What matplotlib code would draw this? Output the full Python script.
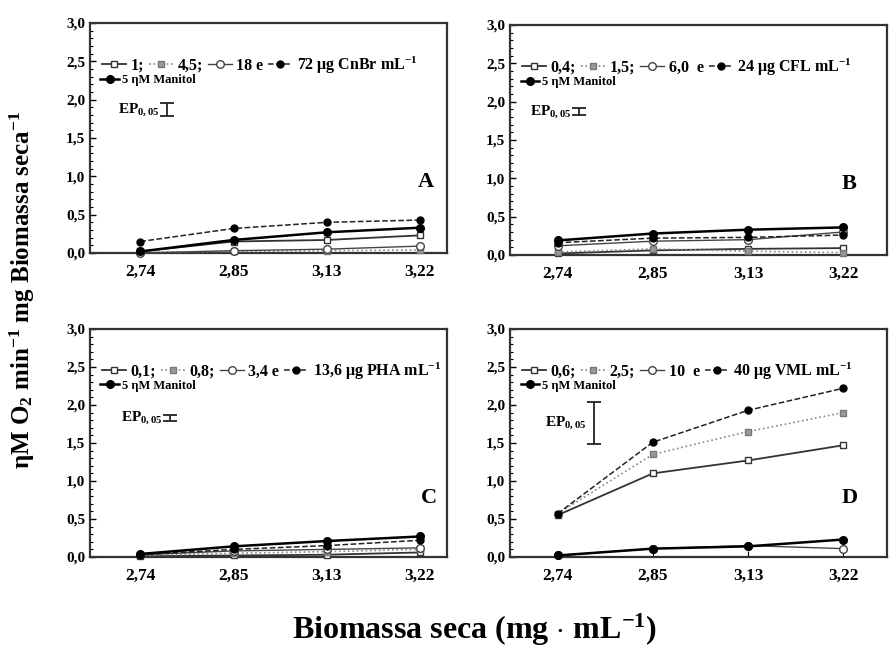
import numpy as np
import matplotlib.pyplot as plt
from matplotlib.lines import Line2D
from matplotlib.ticker import MultipleLocator, FuncFormatter

plt.rcParams['font.family'] = ['Liberation Serif', 'DejaVu Serif']
plt.rcParams['font.weight'] = 'bold'
plt.rcParams['mathtext.fontset'] = 'custom'
plt.rcParams['mathtext.rm'] = 'Liberation Serif:bold'
plt.rcParams['mathtext.bf'] = 'Liberation Serif:bold'
plt.rcParams['mathtext.it'] = 'Liberation Serif:bold'
plt.rcParams['mathtext.default'] = 'rm'

# x categories (biomassa seca)
biomassa = ["2,74", "2,85", "3,13", "3,22"]

# series values per panel: s1 open square, s2 crossed square, s3 open circle,
# s4 filled circle (dashed), s5 manitol
a_s1 = [0.02, 0.15, 0.17, 0.23]
a_s2 = [0.01, 0.02, 0.03, 0.04]
a_s3 = [0.00, 0.03, 0.05, 0.09]
a_s4 = [0.15, 0.32, 0.40, 0.43]
a_s5 = [0.02, 0.17, 0.27, 0.33]

b_s1 = [0.02, 0.06, 0.08, 0.09]
b_s2 = [0.04, 0.08, 0.05, 0.03]
b_s3 = [0.12, 0.18, 0.20, 0.30]
b_s4 = [0.16, 0.22, 0.23, 0.26]
b_s5 = [0.19, 0.28, 0.33, 0.36]

c_s1 = [0.01, 0.02, 0.03, 0.06]
c_s2 = [0.02, 0.05, 0.07, 0.10]
c_s3 = [0.03, 0.08, 0.10, 0.12]
c_s4 = [0.03, 0.10, 0.15, 0.22]
c_s5 = [0.04, 0.14, 0.21, 0.27]

d_s1 = [0.55, 1.10, 1.27, 1.47]
d_s2 = [0.57, 1.35, 1.65, 1.90]
d_s3 = [0.02, 0.11, 0.15, 0.11]
d_s4 = [0.57, 1.51, 1.93, 2.22]
d_s5 = [0.02, 0.11, 0.14, 0.23]

# legend doses
doses_a = ["1;", "4,5;", "18 e", "72 μg CnBr mL$^{-1}$"]
doses_b = ["0,4;", "1,5;", "6,0  e", "24 μg CFL mL$^{-1}$"]
doses_c = ["0,1;", "0,8;", "3,4 e", "13,6 μg PHA mL$^{-1}$"]
doses_d = ["0,6;", "2,5;", "10  e", "40 μg VML mL$^{-1}$"]

# EP 0,05 (bar length)
ep_values = [0.17, 0.09, 0.09, 0.55]
letters = ["A", "B", "C", "D"]

styles = [
    dict(marker='s', mfc='white', mec='#333333', color='#333333', ls='-', lw=1.3, ms=5),
    dict(marker='s', mfc='#999999', mec='#777777', color='#888888', ls=':', lw=1.2, ms=5),
    dict(marker='o', mfc='white', mec='#444444', color='#444444', ls='-', lw=1.0, ms=5.5),
    dict(marker='o', mfc='black', mec='black', color='#222222', ls='--', lw=1.1, ms=5),
    dict(marker='o', mfc='black', mec='black', color='black', ls='-', lw=1.8, ms=5.5),
]

panels = [
    ([a_s1, a_s2, a_s3, a_s4, a_s5], doses_a),
    ([b_s1, b_s2, b_s3, b_s4, b_s5], doses_b),
    ([c_s1, c_s2, c_s3, c_s4, c_s5], doses_c),
    ([d_s1, d_s2, d_s3, d_s4, d_s5], doses_d),
]

W, H = 890, 649
fig = plt.figure(figsize=(8.9, 6.49), dpi=100)

# axes boxes in pixels: left, right, top, bottom
boxes = [(90, 447, 23, 253), (510, 887, 25, 255),
         (90, 447, 329, 557), (510, 887, 329, 557)]
xlims = [(-0.54, 3.29), (-0.5, 3.46), (-0.54, 3.29), (-0.5, 3.46)]
ep_x = [0.29, 0.23, 0.32, 0.38]
ep_y = [1.87, 1.87, 1.83, 1.76]
letter_pos = [(0.94, 0.31), (0.90, 0.31), (0.95, 0.26), (0.90, 0.26)]

x = np.arange(len(biomassa))
fmt = FuncFormatter(lambda v, p: f"{v:.1f}".replace(".", ","))

for i, (series, doses) in enumerate(panels):
    l, r, t, b = boxes[i]
    ax = fig.add_axes([l / W, 1 - b / H, (r - l) / W, (b - t) / H])
    for vals, st in zip(series, styles):
        ax.plot(x, vals, clip_on=False, zorder=3, **st)
    ax.set_xlim(*xlims[i])
    ax.set_ylim(0, 3.0)
    ax.set_xticks(x)
    ax.set_xticklabels(biomassa, fontsize=12.5, fontweight='bold')
    ax.yaxis.set_major_locator(MultipleLocator(0.5))
    ax.yaxis.set_minor_locator(MultipleLocator(0.1))
    ax.yaxis.set_major_formatter(fmt)
    ax.tick_params(axis='y', direction='in', labelsize=11, length=4, width=1)
    ax.tick_params(axis='y', which='minor', direction='in', length=2, width=0.8)
    ax.tick_params(axis='x', direction='in', length=4, pad=8)
    for lab in ax.get_yticklabels():
        lab.set_fontweight('bold')
    for sp in ax.spines.values():
        sp.set_linewidth(1.6)
        sp.set_color('#333333')

    # legend line with doses
    handles = [Line2D([], [], **styles[k]) for k in range(4)]
    leg1 = ax.legend(handles, doses, ncol=4, loc='upper left',
                     bbox_to_anchor=(0.015, 0.89), frameon=False,
                     handlelength=1.5, handletextpad=0.3, columnspacing=0.3,
                     borderaxespad=0, prop={'weight': 'bold', 'size': 11.5})
    ax.add_artist(leg1)
    hm = [Line2D([], [], **styles[4])]
    ax.legend(hm, ["5 ηM Manitol"], loc='upper left',
              bbox_to_anchor=(0.015, 0.80), frameon=False,
              handlelength=1.5, handletextpad=0.2, borderaxespad=0,
              prop={'weight': 'bold', 'size': 9})

    # EP 0,05 bar
    ax.errorbar([ep_x[i]], [ep_y[i]], yerr=ep_values[i] / 2, fmt='none',
                ecolor='#222222', elinewidth=1.3, capsize=5, capthick=1.3)
    ax.text(ep_x[i] - 0.08, ep_y[i], "EP$_{0,05}$", ha='right', va='center',
            fontsize=11, fontweight='bold')

    ax.text(*letter_pos[i], letters[i], transform=ax.transAxes, ha='center',
            va='center', fontsize=16, fontweight='bold')

fig.text(22 / W, 1 - 290 / H,
         "ηM O$_2$ min$^{-1}$ mg Biomassa seca$^{-1}$",
         rotation=90, ha='center', va='center', fontsize=18, fontweight='bold')
fig.text(475 / W, 1 - 630 / H, "Biomassa seca (mg $\\cdot$ mL$^{-1}$)",
         ha='center', va='center', fontsize=23, fontweight='bold')

fig.savefig("out.png", dpi=100)
